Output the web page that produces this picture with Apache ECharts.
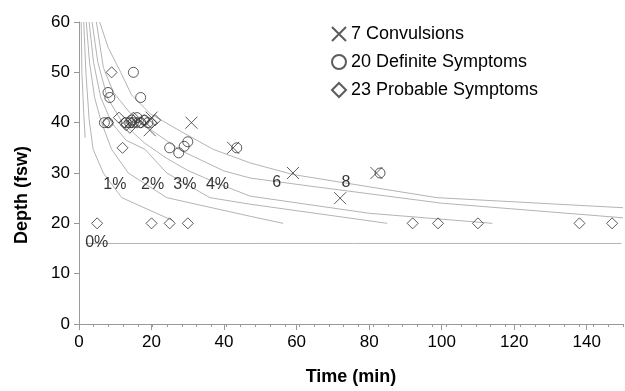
<!DOCTYPE html>
<html><head><meta charset="utf-8">
<script src="https://cdn.jsdelivr.net/npm/echarts/dist/echarts.min.js"></script>
<style>html,body{margin:0;padding:0;background:#fff}#c{width:625px;height:391px}</style>
</head><body><div id="c"></div>
<script>
// ---- data ----
const seriesNames = ['7 Convulsions', '20 Definite Symptoms', '23 Probable Symptoms'];
const convulsions = [[20,41],[19.5,38.5],[31,40],[42.5,35],[59,30],[72,25],[82,30]];
const definite = [[15,50],[8,46],[8.5,45],[17,45],[7,40],[8,40],[13,40],[14,40],[14.5,40.5],[15,40],[16,41],[17,40],[18,40.5],[19,40],[25,35],[27.5,34],[29,35.3],[30,36.2],[43.5,35],[83,30]];
const probable = [[9,50],[8,40],[11,41],[12.5,40],[13,39.5],[14,39],[14.5,40],[15,41],[16,40],[17,40],[18,40.5],[20,40],[21,40.5],[12,35],[5,20],[20,20],[25,20],[30,20],[92,20],[99,20],[110,20],[138,20],[147,20]];

const curve0a = [[0.6,60],[0.8,50],[1.3,42],[1.7,37]];
const curve0b = [[1.8,16],[149.6,16]];
const curve1 = [[1.3,60],[1.9,50],[2.8,40.6],[3.9,34.7],[6.7,30],[11.8,25.1],[26,20.5]];
const curve2 = [[2.0,60],[2.9,52],[4.3,45],[6.2,40],[9,34.7],[13.6,30],[24.2,25.1],[47.2,21.4],[56.3,20]];
const curve3 = [[2.8,60],[4.0,52],[6,45],[9,40],[13,36.5],[18.2,34.7],[24.2,30],[36.1,25.1],[47.2,23.8],[85,20]];
const curve4 = [[3.6,60],[5.2,52],[7.8,45],[12,40],[18,36],[24,33],[30,30.5],[38,28],[47.2,25.4],[80,22],[114,20]];
const curve6 = [[4.8,60],[6.7,51],[9.5,46],[14,42],[20,38.5],[28,34.5],[40,30.4],[47.2,29],[63.7,27.4],[100,24],[150,21.1]];
const curve8 = [[5.7,60],[8,55],[11.5,50],[14.5,45.5],[19.6,41.8],[28,38.3],[37,34.7],[47.2,32],[59,29.7],[73.6,28],[98.7,25.1],[150,23.1]];
const curves = [curve0a, curve0b, curve1, curve2, curve3, curve4, curve6, curve8];

const curveLabelText = ['0%','1%','2%','3%','4%','6','8'];
const curveLabelPos = [[4.9,16.2],[9.9,27.7],[20.3,27.7],[29.2,27.7],[38.2,27.7],[54.5,28.1],[73.6,28.1]];

const xTitle = 'Time (min)';
const yTitle = 'Depth (fsw)';

// ---- chart ----
const FONT = '"Liberation Sans", Arial, sans-serif';
const chart = echarts.init(document.getElementById('c'), null, {renderer: 'canvas'});
const markerStyle = {color: 'rgba(0,0,0,0)', borderColor: '#333', borderWidth: 1};

const series = [];
curves.forEach((c, i) => {
  series.push({
    type: 'line', name: 'curve' + i, data: c, showSymbol: false, symbol: 'none',
    lineStyle: {color: '#b4b4b4', width: 1}, silent: true, z: 1, animation: false
  });
});
series.push({
  type: 'scatter', name: 'labels', symbolSize: 0, silent: true, z: 3,
  data: curveLabelPos.map((p, i) => ({value: p, name: curveLabelText[i]})),
  label: {show: true, position: 'inside', formatter: p => p.name, color: '#000', fontSize: 16, fontFamily: FONT}
});
series.push({type: 'scatter', name: seriesNames[0], data: convulsions, symbol: 'path://M0,0L12,12M12,0L0,12', symbolSize: 12, itemStyle: markerStyle, z: 5});
series.push({type: 'scatter', name: seriesNames[1], data: definite, symbol: 'circle', symbolSize: 10, itemStyle: markerStyle, z: 5});
series.push({type: 'scatter', name: seriesNames[2], data: probable, symbol: 'diamond', symbolSize: 11, itemStyle: markerStyle, z: 5});

chart.setOption({
  animation: false,
  textStyle: {fontFamily: FONT},
  grid: {left: 79, right: 2, top: 22, bottom: 66, containLabel: false},
  legend: {
    data: seriesNames, orient: 'vertical', left: 326, top: 20,
    itemWidth: 14, itemHeight: 14, itemGap: 10,
    textStyle: {fontSize: 18, color: '#000', fontFamily: FONT}
  },
  xAxis: [{
    type: 'value', min: 0, max: 150, interval: 20,
    axisLine: {show: true, lineStyle: {color: '#999'}},
    axisTick: {show: true, length: 6, lineStyle: {color: '#999'}},
    axisLabel: {fontSize: 17, color: '#000', margin: 10, showMaxLabel: false, fontFamily: FONT},
    splitLine: {show: false},
    name: xTitle, nameLocation: 'middle', nameGap: 44,
    nameTextStyle: {fontSize: 18, fontWeight: 'bold', color: '#000', fontFamily: FONT}
  }, {
    type: 'value', min: 0, max: 148, interval: 4, position: 'bottom',
    axisLine: {show: false}, axisLabel: {show: false}, splitLine: {show: false},
    axisTick: {show: true, length: 3, lineStyle: {color: '#999'}}
  }],
  yAxis: {
    type: 'value', min: 0, max: 60, interval: 10,
    axisLine: {show: true, lineStyle: {color: '#999'}},
    axisTick: {show: true, length: 5, lineStyle: {color: '#999'}},
    axisLabel: {fontSize: 17, color: '#000', margin: 9, fontFamily: FONT},
    splitLine: {show: false}
  },
  graphic: [{
    type: 'text', x: 22, y: 195, rotation: Math.PI / 2,
    style: {text: yTitle, font: 'bold 18px ' + FONT, fill: '#000', align: 'center', verticalAlign: 'middle'}
  }],
  series: series
});
</script></body></html>
